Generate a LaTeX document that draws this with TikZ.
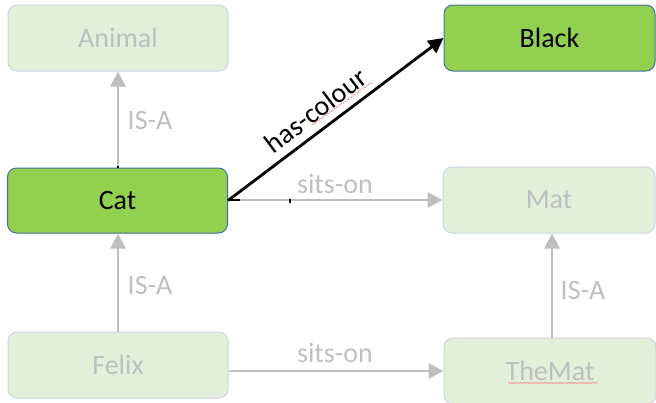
\documentclass[tikz,border=0pt]{standalone}
\usepackage{fontspec}
\setmainfont{Carlito}
\usetikzlibrary{arrows.meta,decorations.pathmorphing}
\definecolor{fadefill}{HTML}{E2EFD9}
\definecolor{fadeline}{HTML}{CDD6E6}
\definecolor{fadetext}{HTML}{BFBFBF}
\definecolor{hifill}{HTML}{92D050}
\definecolor{hiline}{HTML}{41719C}
\definecolor{squig}{HTML}{F08080}
\tikzset{
  faded/.style={draw=fadeline, line width=1pt, fill=fadefill, rounded corners=9pt, text=fadetext, font=\fontsize{28}{32}\selectfont, inner sep=0pt},
  hilite/.style={draw=hiline, line width=1pt, fill=hifill, rounded corners=9pt, text=black, font=\fontsize{28}{32}\selectfont, inner sep=0pt},
  grayarrow/.style={draw=fadetext, line width=2.8pt, -{Triangle[length=15pt,width=15pt]}},
  blackarrow/.style={draw=black, line width=2.8pt, -{Triangle[length=15pt,width=15pt]}},
  lbl/.style={text=fadetext, font=\fontsize{28}{32}\selectfont, inner sep=0pt},
}
\begin{document}
\begin{tikzpicture}[x=1pt,y=-1pt]
\useasboundingbox (0,0) rectangle (656,402);
\node[faded, minimum width=220pt, minimum height=66pt] (animal) at (118,38) {Animal};
\node[hilite, minimum width=211pt, minimum height=66pt] (black) at (549.5,38) {Black};
\node[hilite, minimum width=220pt, minimum height=65pt] (cat) at (117.5,200.5) {Cat};
\node[faded, minimum width=212pt, minimum height=66pt] (mat) at (549,200) {Mat};
\node[faded, minimum width=220pt, minimum height=66pt] (felix) at (118,365) {Felix};
\node[faded, minimum width=212pt, minimum height=66pt] (themat) at (550,371) {TheMat};

% connectors
\draw[grayarrow] (cat.north -| animal.south) -- (animal.south);
\draw[grayarrow] (felix.north) -- (felix.north |- cat.south);
\draw[grayarrow] (cat.east |- mat.west) -- (mat.west);
\draw[grayarrow] (felix.east |- themat.west) -- (themat.west);
\draw[grayarrow] (themat.north -| 552,0) -- (552,0 |- mat.south);
\draw[blackarrow] (cat.east) -- node[sloped, above=8pt, pos=0.46, inner sep=0pt, font=\fontsize{28}{32}\selectfont] (hc) {has-colour} (black.west);

% small black ticks on the connectors
\coordinate (t1) at (118,168);
\draw[black, line width=2.8pt] (t1) -- ++(0,-2);
\draw[black, line width=2.8pt] (cat.east |- mat.west) -- ++(12,0);
\draw[black, line width=1.5pt] (290,198.5) -- (290,203);

% labels
\node[lbl] (isa1) at (150,121) {IS-A};
\node[lbl] (isa2) at (150,286) {IS-A};
\node[lbl] (isa3) at (583,291) {IS-A};
\node[lbl] (so1) at (335,184) {sits-on};
\node[lbl] (so2) at (335,353) {sits-on};

% spell-check squiggles
\draw[squig, line width=0.5pt, decorate, decoration={snake, amplitude=0.6pt, segment length=3pt}] (312,125) -- (372,82);
\draw[squig, line width=0.5pt, decorate, decoration={snake, amplitude=0.6pt, segment length=3pt}] (508,383) -- (598,383);
\end{tikzpicture}
\end{document}
